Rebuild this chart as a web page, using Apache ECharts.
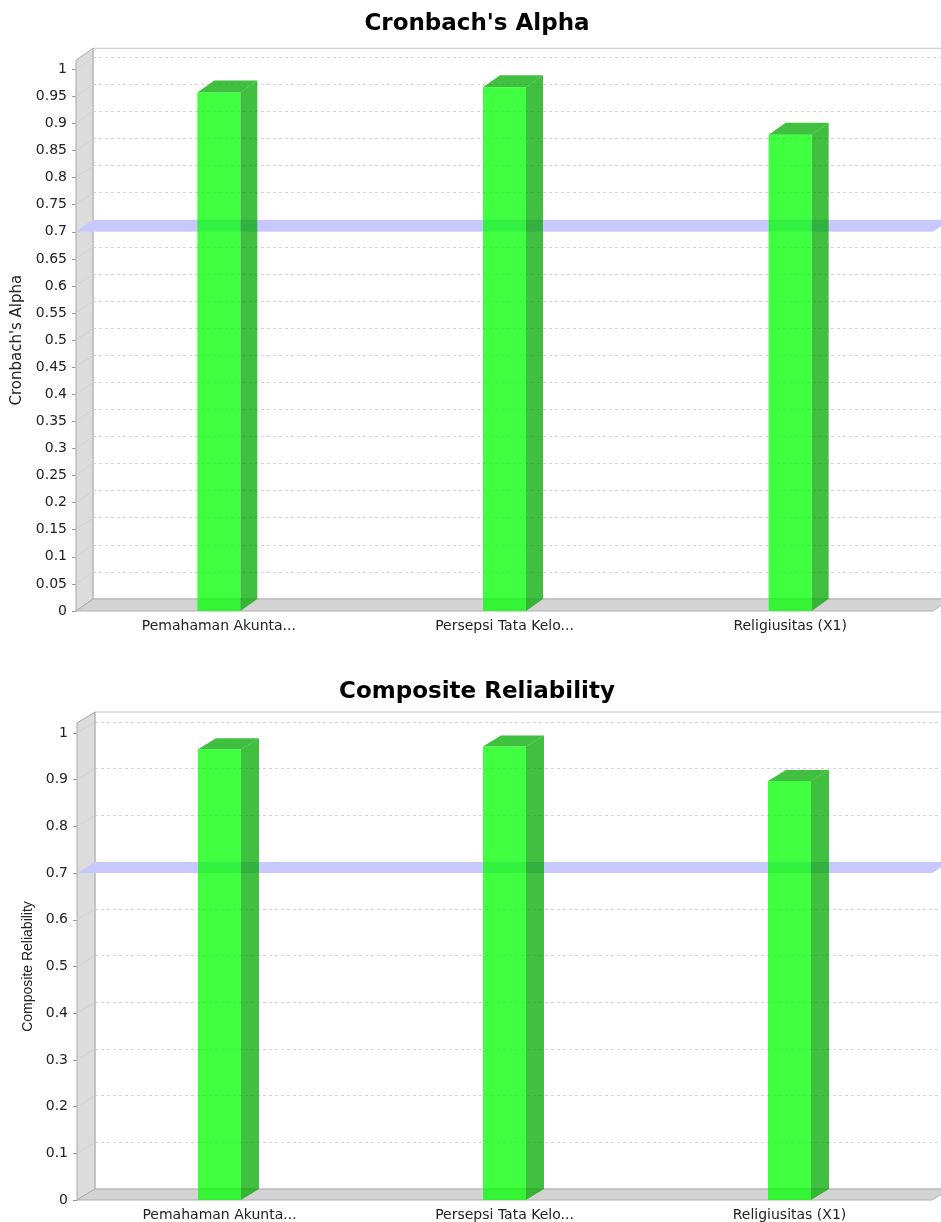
<!DOCTYPE html>
<html>
<head>
<meta charset="utf-8">
<title>Cronbach's Alpha / Composite Reliability</title>
<style>
  html, body { margin: 0; padding: 0; background: #fff; }
  #chart { width: 941px; height: 1222px; }
</style>
<script src="https://cdn.jsdelivr.net/npm/echarts@6/dist/echarts.min.js"></script>
</head>
<body>
<div id="chart"></div>
<script>
// values
const categories = ['Pemahaman Akunta...', 'Persepsi Tata Kelo...', 'Religiusitas (X1)'];
const cronbachValues = [0.957, 0.967, 0.879];
const compositeValues = [0.965, 0.971, 0.897];
const thresholdValue = 0.7;
const cronbachTicks = { min: 0, max: 1, interval: 0.05 };
const compositeTicks = { min: 0, max: 1, interval: 0.1 };

const FONT = 'DejaVu Sans';
const BAR_W = 43;

// one 3D-looking panel = a back grid (gridlines on the back wall) + a front grid (bars, labels)
const panels = [
  {
    title: "Cronbach's Alpha",
    titleTop: 8,
    name: "Cronbach's Alpha",
    nameFont: { fontFamily: FONT, fontSize: 15, color: '#222' },
    nameGap: 51,
    values: cronbachValues,
    ticks: cronbachTicks,
    front: { left: 76, right: 8, top: 69.3, bottom: 611 },
    dx: 17, dy: 12, pad: 9
  },
  {
    title: 'Composite Reliability',
    titleTop: 676,
    name: 'Composite Reliability',
    nameFont: { fontFamily: 'Liberation Sans', fontSize: 14, color: '#222' },
    nameGap: 42,
    values: compositeValues,
    ticks: compositeTicks,
    front: { left: 77, right: 9, top: 733, bottom: 22 },
    dx: 18, dy: 11, pad: 10
  }
];

function frameRenderer(panel) {
  const { dx, dy, pad, ticks } = panel;
  return function (params, api) {
    const cs = params.coordSys;
    const xL = cs.x;
    const xR = cs.x + cs.width;
    const yB = cs.y + cs.height;
    const yT = cs.y - pad;
    const children = [
      {
        type: 'rect',
        shape: { x: xL + dx, y: yT - dy, width: cs.width, height: yB - yT },
        style: { fill: null, stroke: '#c4c4c4', lineWidth: 1 }
      },
      {
        type: 'polygon',
        shape: { points: [[xL, yT], [xL + dx, yT - dy], [xL + dx, yB - dy], [xL, yB]] },
        style: { fill: '#dcdcdc', stroke: '#a9a9a9', lineWidth: 1 }
      }
    ];
    // faint diagonal tick lines across the side wall
    for (let i = 1; i * ticks.interval <= ticks.max + 1e-9; i++) {
      const y = api.coord([0, i * ticks.interval])[1];
      children.push({
        type: 'line',
        shape: { x1: xL, y1: y, x2: xL + dx, y2: y - dy },
        style: { stroke: '#d3d3d3', lineWidth: 1 }
      });
    }
    children.push({
      type: 'polygon',
      shape: { points: [[xL, yB], [xL + dx, yB - dy], [xR + dx, yB - dy], [xR, yB]] },
      style: { fill: '#d3d3d3', stroke: '#b0b0b0', lineWidth: 1 }
    });
    return { type: 'group', children };
  };
}

function bandRenderer(panel) {
  const { dx, dy } = panel;
  return function (params, api) {
    const cs = params.coordSys;
    const xL = cs.x;
    const xR = cs.x + cs.width;
    const y = api.coord([0, api.value(1)])[1];
    return {
      type: 'polygon',
      shape: { points: [[xL, y], [xL + dx, y - dy], [xR + dx, y - dy], [xR, y]] },
      style: { fill: '#c8c8ff' }
    };
  };
}

function barRenderer(panel) {
  const { dx, dy } = panel;
  return function (params, api) {
    const top = api.coord([api.value(0), api.value(1)]);
    const base = api.coord([api.value(0), 0]);
    const x0 = top[0] - BAR_W / 2;
    const x1 = top[0] + BAR_W / 2;
    const y0 = top[1];
    const y1 = base[1];
    return {
      type: 'group',
      children: [
        {
          type: 'polygon',
          shape: { points: [[x1, y1], [x1 + dx, y1 - dy], [x1 + dx, y0 - dy], [x1, y0]] },
          style: { fill: 'rgba(0,170,0,0.75)' }
        },
        {
          type: 'polygon',
          shape: { points: [[x0, y0], [x1, y0], [x1 + dx, y0 - dy], [x0 + dx, y0 - dy]] },
          style: { fill: 'rgba(0,170,0,0.75)' }
        },
        {
          type: 'rect',
          shape: { x: x0, y: y0, width: BAR_W, height: y1 - y0 },
          style: { fill: 'rgba(0,255,0,0.75)' }
        }
      ]
    };
  };
}

const option = {
  animation: false,
  backgroundColor: '#fff',
  title: [],
  grid: [],
  xAxis: [],
  yAxis: [],
  series: []
};

panels.forEach((p, i) => {
  const back = 2 * i;
  const front = 2 * i + 1;

  option.title.push({
    text: p.title,
    left: 472,
    textAlign: 'center',
    top: p.titleTop,
    textStyle: { fontFamily: FONT, fontWeight: 'bold', fontSize: 23, color: '#000' }
  });

  option.grid.push(
    {
      left: p.front.left + p.dx,
      right: p.front.right - p.dx,
      top: p.front.top - p.dy,
      bottom: p.front.bottom + p.dy
    },
    { left: p.front.left, right: p.front.right, top: p.front.top, bottom: p.front.bottom }
  );

  option.xAxis.push(
    { gridIndex: back, type: 'category', data: categories, show: false },
    {
      gridIndex: front,
      type: 'category',
      data: categories,
      axisLine: { show: false },
      axisTick: { show: false },
      axisLabel: { interval: 0, margin: 8, fontFamily: FONT, fontSize: 14, color: '#222' }
    }
  );

  option.yAxis.push(
    {
      gridIndex: back,
      type: 'value',
      min: p.ticks.min,
      max: p.ticks.max,
      interval: p.ticks.interval,
      axisLine: { show: false },
      axisTick: { show: false },
      axisLabel: { show: false },
      splitLine: { show: true, lineStyle: { color: '#d4d4d4', type: [3, 3], width: 1 } }
    },
    {
      gridIndex: front,
      type: 'value',
      min: p.ticks.min,
      max: p.ticks.max,
      interval: p.ticks.interval,
      name: p.name,
      nameLocation: 'middle',
      nameGap: p.nameGap,
      nameTextStyle: p.nameFont,
      axisLine: { show: false },
      axisTick: { show: true, length: 4, lineStyle: { color: '#999' } },
      axisLabel: { margin: 9, fontFamily: FONT, fontSize: 14, color: '#222' },
      splitLine: { show: false }
    }
  );

  option.series.push(
    {
      type: 'custom',
      xAxisIndex: front,
      yAxisIndex: front,
      z: 2,
      silent: true,
      renderItem: frameRenderer(p),
      data: [[0, 0]]
    },
    {
      type: 'custom',
      xAxisIndex: front,
      yAxisIndex: front,
      z: 3,
      silent: true,
      renderItem: bandRenderer(p),
      data: [[0, thresholdValue]]
    },
    {
      type: 'custom',
      name: p.name,
      xAxisIndex: front,
      yAxisIndex: front,
      z: 4,
      renderItem: barRenderer(p),
      encode: { x: 0, y: 1 },
      data: p.values.map((v, k) => [k, v])
    }
  );
});

const chart = echarts.init(document.getElementById('chart'), null, { renderer: 'canvas' });
chart.setOption(option);
</script>
</body>
</html>
